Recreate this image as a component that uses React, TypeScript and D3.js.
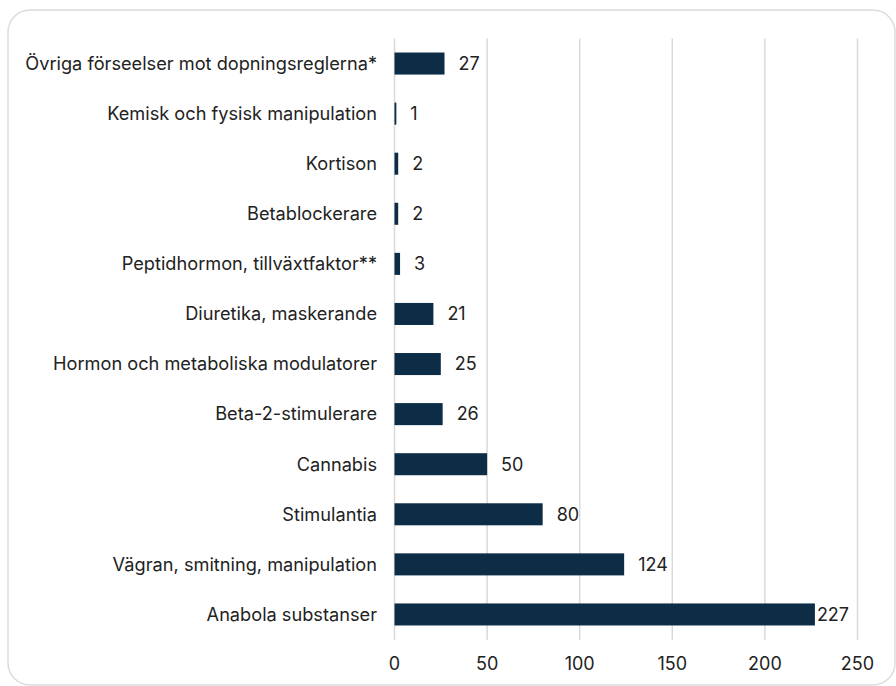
import React from "react";
import * as d3 from "d3";

const categories = [
  "Övriga förseelser mot dopningsreglerna*",
  "Kemisk och fysisk manipulation",
  "Kortison",
  "Betablockerare",
  "Peptidhormon, tillväxtfaktor**",
  "Diuretika, maskerande",
  "Hormon och metaboliska modulatorer",
  "Beta-2-stimulerare",
  "Cannabis",
  "Stimulantia",
  "Vägran, smitning, manipulation",
  "Anabola substanser",
];
const values = [27, 1, 2, 2, 3, 21, 25, 26, 50, 80, 124, 227];
const ticks = [0, 50, 100, 150, 200, 250];

export default function App() {
  const W = 896, H = 686;
  const x = d3.scaleLinear().domain([0, 250]).range([394.5, 857.5]);
  const y = d3.scaleBand().domain(categories).range([38.5, 639.5]).paddingInner(0.56).paddingOuter(0.28);
  const font = "Inter, 'Open Sans', sans-serif";
  return (
    <svg width={W} height={H} style={{ position: "absolute", left: 0, top: 0 }} fontFamily={font}>
      <rect x={8} y={10} width={W - 9} height={H - 11} rx={22} fill="#fff" stroke="#dcdcdc" strokeWidth={1.5} />
      {ticks.map((t) => (
        <g key={t}>
          {t > 0 && <line x1={x(t)} x2={x(t)} y1={38.5} y2={640} stroke="#d9d9d9" strokeWidth={1.5} />}
          <text x={x(t)} y={670} textAnchor="middle" fontSize={18} fill="#222">{t}</text>
        </g>
      ))}
      <line x1={x(0)} x2={x(0)} y1={38.5} y2={640} stroke="#d9d9d9" strokeWidth={1.5} />
      {categories.map((c, i) => {
        const yc = (y(c) as number) + y.bandwidth() / 2;
        const v = values[i];
        return (
          <g key={c}>
            <text x={377} y={yc} dy="0.35em" textAnchor="end" fontSize={18.2} fill="#222">{c}</text>
            <rect x={x(0)} y={y(c)} width={x(v) - x(0)} height={y.bandwidth()} fill="#0c2d45" />
            <text x={x(v) + (v > 200 ? 2 : 14)} y={yc} dy="0.35em" textAnchor="start" fontSize={18} fill="#222">{v}</text>
          </g>
        );
      })}
    </svg>
  );
}
